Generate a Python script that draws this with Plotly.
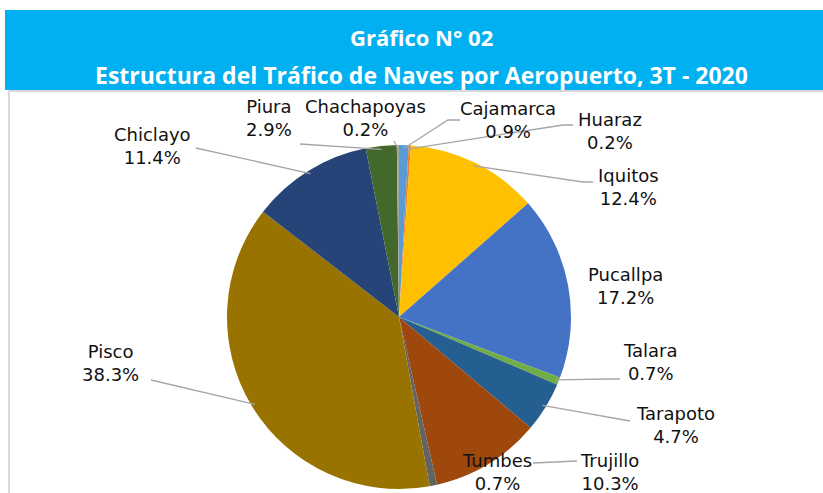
import math
import plotly.graph_objects as go

# ---------------- data ----------------
airports = ["Cajamarca", "Huaraz", "Iquitos", "Pucallpa", "Talara", "Tarapoto",
            "Trujillo", "Tumbes", "Pisco", "Chiclayo", "Piura", "Chachapoyas"]
shares = [0.9, 0.2, 12.4, 17.2, 0.7, 4.7, 10.3, 0.7, 38.3, 11.4, 2.9, 0.2]
colors = ["#5B9BD5", "#ED7D31", "#FFC000", "#4472C4", "#70AD47", "#255E91",
          "#9E480E", "#636363", "#997300", "#264478", "#43682B", "#A5A5A5"]

title1 = "Gráfico N° 02"
title2 = "Estructura del Tráfico de Naves por Aeropuerto, 3T - 2020"

# ---------------- layout constants (pixels) ----------------
W, H = 823, 493
CX, CY, R = 399, 317, 172

# label block centres
label_pos = {
    "Piura": (269, 118), "Chachapoyas": (365, 118), "Cajamarca": (508, 120),
    "Huaraz": (610, 131), "Iquitos": (628, 187), "Pucallpa": (625, 286),
    "Talara": (650, 362), "Tarapoto": (675, 425), "Trujillo": (609, 472),
    "Tumbes": (497, 472), "Pisco": (110, 363), "Chiclayo": (152, 146),
}
# leader line points on the label side (tip is computed from the data)
leaders = {
    "Piura": [(300, 144)],
    "Chachapoyas": [(394, 141)],
    "Cajamarca": [(460, 120), (448, 120)],
    "Huaraz": [(573, 125), (563, 125)],
    "Iquitos": [(593, 182), (583, 182)],
    "Talara": [(620, 379), (608, 379)],
    "Tarapoto": [(630, 421)],
    "Pisco": [(151, 380)],
    "Chiclayo": [(196, 148)],
}


def px(x):
    return x / W


def py(y):
    return 1 - y / H


fig = go.Figure()
fig.add_trace(go.Pie(
    labels=airports, values=shares, sort=False, direction="clockwise",
    rotation=0, textinfo="none", hoverinfo="label+percent",
    marker=dict(colors=colors, line=dict(color="white", width=0)),
    domain=dict(x=[px(CX - R), px(CX + R)], y=[py(CY + R), py(CY - R)]),
    showlegend=False,
))

shapes = [
    dict(type="rect", xref="paper", yref="paper", x0=px(5), x1=px(823),
         y0=py(90), y1=py(10), fillcolor="#00B0F0", line=dict(width=0), layer="below"),
    dict(type="line", xref="paper", yref="paper", x0=px(9), x1=px(823),
         y0=py(91), y1=py(91), line=dict(color="#D9D9D9", width=2)),
    dict(type="line", xref="paper", yref="paper", x0=px(9), x1=px(9),
         y0=py(91), y1=py(493), line=dict(color="#D9D9D9", width=2)),
]

# slice mid angles from the data
total = sum(shares)
cum = 0.0
mid_angle = {}
for name, v in zip(airports, shares):
    mid_angle[name] = (cum + v / 2) / total * 2 * math.pi
    cum += v

for name, pts in leaders.items():
    a = mid_angle[name]
    tip = (CX + 0.98 * R * math.sin(a), CY - 0.98 * R * math.cos(a))
    allp = pts + [tip]
    path = "M " + " L ".join(f"{px(x):.5f},{py(y):.5f}" for x, y in allp)
    shapes.append(dict(type="path", xref="paper", yref="paper", path=path,
                       line=dict(color="#A6A6A6", width=1.3)))
# Trujillo leader (runs toward the Tumbes label)
shapes.append(dict(type="line", xref="paper", yref="paper", x0=px(577), y0=py(461),
                   x1=px(533), y1=py(463), line=dict(color="#A6A6A6", width=1.3)))

annotations = [
    dict(text=f"<b>{title1}</b>", x=px(421), y=py(37), xref="paper", yref="paper",
         showarrow=False, font=dict(family="Open Sans", size=22, color="white"),
         xanchor="center", yanchor="middle"),
    dict(text=f"<b>{title2}</b>", x=px(421), y=py(75), xref="paper", yref="paper",
         showarrow=False, font=dict(family="Open Sans", size=23, color="white"),
         xanchor="center", yanchor="middle"),
]
for name, v in zip(airports, shares):
    x, y = label_pos[name]
    annotations.append(dict(
        text=f"{name}<br>{v:.1f}%", x=px(x), y=py(y), xref="paper", yref="paper",
        showarrow=False, align="center", xanchor="center", yanchor="middle",
        font=dict(family="DejaVu Sans", size=18, color="#111111")))

fig.update_layout(
    width=W, height=H, margin=dict(l=0, r=0, t=0, b=0),
    paper_bgcolor="white", plot_bgcolor="white",
    shapes=shapes, annotations=annotations,
)

fig.write_html("out.html", config={"displayModeBar": False},
               post_script="document.body.style.margin='0';document.body.style.overflow='hidden';")
